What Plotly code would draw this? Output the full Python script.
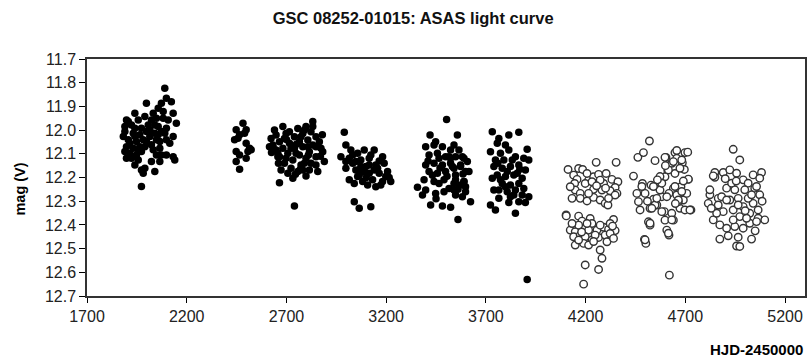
import plotly.graph_objects as go

# ASAS V-band photometry of GSC 08252-01015, grouped by observing season
# (HJD - 2450000, V magnitude)
s1_hjd = [2090, 2098, 2123, 1998, 2073, 2057, 2132, 1940, 1898, 1990, 2032, 2082, 2107, 2148,
          1923, 1957, 1973, 2007, 2023, 2057, 2073, 1890, 1932, 1965, 1882, 2040, 2090, 2132,
          2015, 1907, 1948, 1982, 2048, 2065, 2115, 1898, 1932, 1965, 2023, 1890, 1915, 1948,
          1973, 2048, 2073, 2098, 2132, 2140, 1923, 1957, 2023, 2065, 1940, 1990, 1973, 2040,
          1982, 1973, 1907, 1940, 1998, 2040, 2098, 1915, 1990, 2032, 2065, 1940, 1890, 1998,
          2098, 1957, 1898, 2057, 2082, 2048, 2015]
s1_mag = [11.823, 11.866, 11.880, 11.887, 11.887, 11.908, 11.929, 11.929, 11.957, 11.943, 11.929,
          11.950, 11.957, 11.971, 11.978, 11.957, 11.992, 11.978, 11.957, 11.985, 12.006, 12.006,
          12.013, 12.020, 12.027, 12.013, 12.013, 12.027, 12.027, 12.041, 12.048, 12.041, 12.041,
          12.048, 12.055, 12.070, 12.077, 12.070, 12.062, 12.090, 12.098, 12.105, 12.090, 12.105,
          12.105, 12.105, 12.112, 12.126, 12.119, 12.126, 12.133, 12.133, 12.147, 12.161, 12.168,
          12.175, 12.182, 12.238, 11.964, 11.992, 12.006, 11.978, 11.992, 12.055, 12.070, 12.083,
          12.077, 12.027, 11.985, 12.048, 12.041, 12.083, 12.119, 12.020, 11.922, 11.950, 11.999]

s2_hjd = [2482, 2498, 2448, 2465, 2440, 2457, 2498, 2515, 2507, 2448, 2465, 2498, 2448, 2465,
          2490, 2523]
s2_mag = [11.971, 11.999, 11.999, 12.020, 12.041, 12.034, 12.055, 12.077, 12.090, 12.090, 12.105,
          12.119, 12.133, 12.165, 12.013, 12.083]

s3_hjd = [2832, 2798, 2757, 2682, 2715, 2648, 2623, 2782, 2823, 2848, 2740, 2690, 2665, 2865,
          2807, 2765, 2715, 2632, 2848, 2782, 2740, 2682, 2648, 2882, 2815, 2707, 2765, 2665,
          2848, 2798, 2732, 2890, 2690, 2773, 2823, 2723, 2857, 2782, 2673, 2732, 2798, 2665,
          2740, 2640, 2698, 2832, 2657, 2873, 2748, 2790, 2698, 2832, 2773, 2723, 2807, 2615,
          2848, 2757, 2815, 2707, 2632, 2657, 2750, 2790, 2870, 2700, 2660, 2810, 2745, 2625,
          2880, 2770]
s3_mag = [11.964, 11.985, 11.993, 11.985, 12.007, 12.021, 12.035, 12.014, 12.007, 12.028, 12.028,
          12.035, 12.049, 12.049, 12.042, 12.049, 12.056, 12.063, 12.070, 12.070, 12.077, 12.077,
          12.084, 12.091, 12.091, 12.098, 12.105, 12.112, 12.112, 12.119, 12.126, 12.133, 12.140,
          12.147, 12.140, 12.161, 12.175, 12.168, 12.168, 12.203, 12.194, 12.222, 12.320, 12.000,
          12.014, 12.063, 12.098, 12.077, 12.098, 12.140, 12.119, 11.985, 12.028, 12.077, 12.070,
          12.070, 12.147, 12.175, 12.168, 12.182, 12.070, 12.112, 12.060, 12.000, 12.110, 12.040,
          12.140, 12.105, 12.186, 12.095, 12.020, 12.165]

s4_hjd = [2990, 2998, 2973, 3023, 3015, 3057, 3090, 3140, 3032, 3073, 3115, 3182, 2998, 3048,
          3098, 3148, 3190, 3015, 3065, 3115, 3165, 3207, 3082, 3132, 3182, 3223, 3148, 3107,
          3040, 3173, 3040, 3065, 3123, 3157, 3073, 3032, 3115, 3090, 3057, 3140, 2998, 3198,
          3123, 3048, 3100, 3165, 3080, 3215]
s4_mag = [12.009, 12.063, 12.112, 12.084, 12.119, 12.098, 12.084, 12.084, 12.140, 12.126, 12.119,
          12.112, 12.161, 12.168, 12.154, 12.147, 12.140, 12.210, 12.189, 12.182, 12.182, 12.175,
          12.217, 12.210, 12.217, 12.217, 12.239, 12.232, 12.225, 12.232, 12.302, 12.330, 12.323,
          12.161, 12.154, 12.105, 12.147, 12.175, 12.196, 12.168, 12.133, 12.196, 12.105, 12.133,
          12.200, 12.130, 12.170, 12.200]

s5_hjd = [3503, 3420, 3557, 3440, 3482, 3523, 3415, 3457, 3498, 3548, 3590, 3398, 3440, 3482,
          3523, 3573, 3415, 3457, 3498, 3548, 3598, 3390, 3440, 3490, 3540, 3590, 3357, 3398,
          3448, 3490, 3548, 3598, 3423, 3482, 3523, 3560, 3382, 3465, 3515, 3573, 3432, 3540,
          3465, 3515, 3398, 3448, 3540, 3523, 3582, 3607, 3573, 3615, 3548, 3590, 3540, 3582,
          3623, 3565, 3598, 3532, 3470, 3410, 3505, 3560, 3450, 3585]
s5_mag = [11.955, 12.021, 12.021, 12.063, 12.070, 12.084, 12.105, 12.098, 12.112, 12.112, 12.119,
          12.147, 12.140, 12.147, 12.140, 12.147, 12.175, 12.182, 12.175, 12.189, 12.175, 12.210,
          12.217, 12.210, 12.225, 12.217, 12.241, 12.253, 12.267, 12.260, 12.274, 12.260, 12.316,
          12.320, 12.326, 12.377, 12.274, 12.225, 12.246, 12.232, 12.190, 12.161, 12.119, 12.112,
          12.070, 12.049, 12.063, 12.119, 12.112, 12.133, 12.154, 12.175, 12.210, 12.217, 12.253,
          12.281, 12.302, 12.084, 12.239, 12.154, 12.160, 12.130, 12.195, 12.250, 12.290, 12.185]

s6_hjd = [3732, 3815, 3865, 3765, 3757, 3798, 3723, 3773, 3815, 3907, 3848, 3890, 3915, 3740,
          3782, 3823, 3865, 3898, 3757, 3798, 3840, 3882, 3732, 3782, 3823, 3865, 3765, 3807,
          3848, 3890, 3915, 3765, 3823, 3865, 3898, 3723, 3748, 3848, 3907, 3790, 3832, 3748,
          3807, 3773, 3857, 3798, 3840, 3882, 3740, 3815, 3870, 3760]
s6_mag = [12.007, 12.021, 12.009, 12.035, 12.056, 12.063, 12.091, 12.098, 12.084, 12.081, 12.112,
          12.119, 12.126, 12.154, 12.161, 12.154, 12.147, 12.168, 12.189, 12.196, 12.189, 12.203,
          12.203, 12.225, 12.232, 12.225, 12.253, 12.260, 12.253, 12.246, 12.281, 12.288, 12.281,
          12.302, 12.306, 12.316, 12.337, 12.351, 12.630, 12.126, 12.126, 12.126, 12.175, 12.210,
          12.182, 12.239, 12.274, 12.274, 12.253, 12.305, 12.165, 12.140]

s7_hjd = [4112, 4165, 4185, 4253, 4353, 4140, 4157, 4215, 4240, 4265, 4303, 4332, 4362, 4145,
          4198, 4232, 4290, 4348, 4148, 4173, 4240, 4282, 4323, 4357, 4132, 4173, 4207, 4240,
          4273, 4298, 4312, 4348, 4102, 4165, 4182, 4223, 4232, 4340, 4123, 4148, 4190, 4215,
          4257, 4290, 4315, 4348, 4140, 4173, 4198, 4232, 4265, 4298, 4323, 4148, 4190, 4307,
          4273, 4282, 4198, 4265, 4190, 4103, 4207, 4273, 4123, 4315, 4215, 4207, 4273, 4165,
          4323, 4132, 4248, 4340, 4165, 4215, 4255, 4300, 4180, 4335, 4240]
s7_mag = [12.166, 12.162, 12.166, 12.136, 12.136, 12.190, 12.208, 12.211, 12.197, 12.187, 12.183,
          12.208, 12.218, 12.225, 12.225, 12.218, 12.225, 12.242, 12.253, 12.267, 12.250, 12.253,
          12.256, 12.267, 12.288, 12.288, 12.299, 12.284, 12.295, 12.309, 12.316, 12.274, 12.358,
          12.363, 12.384, 12.373, 12.394, 12.377, 12.422, 12.429, 12.415, 12.422, 12.422, 12.410,
          12.419, 12.424, 12.450, 12.443, 12.450, 12.464, 12.453, 12.443, 12.436, 12.485, 12.478,
          12.471, 12.506, 12.541, 12.569, 12.588, 12.650, 12.362, 12.183, 12.211, 12.239, 12.288,
          12.267, 12.394, 12.401, 12.401, 12.394, 12.394, 12.443, 12.457, 12.464, 12.485, 12.235,
          12.245, 12.430, 12.405, 12.470]

s8_hjd = [4520, 4462, 4490, 4548, 4603, 4648, 4698, 4657, 4632, 4685, 4440, 4612, 4648, 4695,
          4715, 4485, 4528, 4565, 4598, 4640, 4678, 4457, 4498, 4540, 4582, 4618, 4657, 4690,
          4473, 4523, 4557, 4595, 4632, 4673, 4728, 4698, 4515, 4523, 4598, 4640, 4607, 4618,
          4495, 4502, 4620, 4548, 4573, 4465, 4665, 4707, 4598, 4657, 4712, 4640, 4682, 4673,
          4615, 4715, 4573, 4482, 4540, 4582, 4648, 4682, 4557, 4607, 4665, 4723, 4532, 4582,
          4632, 4523, 4615, 4498, 4560, 4600, 4690, 4510, 4650]
s8_mag = [12.046, 12.115, 12.095, 12.129, 12.115, 12.095, 12.095, 12.119, 12.140, 12.138, 12.194,
          12.169, 12.183, 12.166, 12.208, 12.225, 12.232, 12.218, 12.197, 12.246, 12.239, 12.267,
          12.267, 12.292, 12.281, 12.267, 12.274, 12.295, 12.337, 12.330, 12.316, 12.344, 12.351,
          12.330, 12.337, 12.337, 12.387, 12.401, 12.380, 12.380, 12.422, 12.443, 12.461, 12.478,
          12.612, 12.316, 12.253, 12.302, 12.302, 12.267, 12.115, 12.086, 12.093, 12.133, 12.126,
          12.161, 12.168, 12.207, 12.196, 12.238, 12.238, 12.224, 12.238, 12.259, 12.288, 12.281,
          12.295, 12.337, 12.330, 12.344, 12.379, 12.393, 12.435, 12.463, 12.210, 12.150, 12.215,
          12.300, 12.310]

s9_hjd = [4940, 4973, 4848, 4848, 4890, 4923, 4957, 4990, 5040, 5082, 5015, 5073, 4907, 4948,
          4865, 4923, 4965, 4998, 5048, 4823, 4815, 4865, 4890, 4940, 4990, 5040, 5073, 5023,
          5065, 5098, 4840, 4873, 4907, 4948, 4990, 5023, 5057, 4873, 4915, 4965, 5032, 4957,
          4973, 5015, 4882, 4973, 4932, 4823, 5065, 4840, 5032, 4965, 4907, 5007, 4940, 5057,
          4857, 4900, 5000, 5085, 4830, 4955, 5050]
s9_mag = [12.081, 12.126, 12.179, 12.199, 12.179, 12.168, 12.182, 12.210, 12.189, 12.179, 12.224,
          12.203, 12.245, 12.252, 12.288, 12.295, 12.288, 12.252, 12.245, 12.273, 12.309, 12.316,
          12.344, 12.337, 12.323, 12.309, 12.273, 12.351, 12.372, 12.379, 12.379, 12.400, 12.414,
          12.407, 12.414, 12.393, 12.386, 12.460, 12.446, 12.452, 12.460, 12.489, 12.491, 12.288,
          12.281, 12.365, 12.224, 12.252, 12.337, 12.193, 12.273, 12.316, 12.295, 12.372, 12.379,
          12.238, 12.351, 12.205, 12.340, 12.300, 12.330, 12.215, 12.425]

x_ticks = [1700, 2200, 2700, 3200, 3700, 4200, 4700, 5200]
y_ticks = [11.7, 11.8, 11.9, 12.0, 12.1, 12.2, 12.3, 12.4, 12.5, 12.6, 12.7]

filled_hjd = s1_hjd + s2_hjd + s3_hjd + s4_hjd + s5_hjd + s6_hjd
filled_mag = s1_mag + s2_mag + s3_mag + s4_mag + s5_mag + s6_mag
open_hjd = s7_hjd + s8_hjd + s9_hjd
open_mag = s7_mag + s8_mag + s9_mag

FONT = "Liberation Sans, Arial, sans-serif"

fig = go.Figure()
fig.add_trace(go.Scatter(
    x=filled_hjd, y=filled_mag, mode="markers",
    marker=dict(size=7.5, color="black", line=dict(width=0)),
    showlegend=False,
))
fig.add_trace(go.Scatter(
    x=open_hjd, y=open_mag, mode="markers",
    marker=dict(size=7.5, color="white", line=dict(width=1.4, color="#333333")),
    showlegend=False,
))

fig.update_layout(
    width=810, height=364,
    margin=dict(l=87, r=3, t=59, b=68),
    paper_bgcolor="white", plot_bgcolor="white",
    font=dict(family=FONT, color="black"),
    title=dict(text="<b>GSC 08252-01015: ASAS light curve</b>",
               x=0.51, xanchor="center", y=0.95, yanchor="middle",
               font=dict(size=16.5, family=FONT, color="#111111")),
)

fig.update_xaxes(
    range=[1700, 5300], tickmode="array", tickvals=x_ticks,
    ticktext=[str(v) for v in x_ticks],
    ticks="outside", ticklen=5, tickcolor="black", tickwidth=1,
    showline=True, linecolor="#333333", linewidth=1.5, mirror=True,
    showgrid=False, zeroline=False,
    tickfont=dict(size=16, family=FONT, color="#222222"),
)
fig.update_yaxes(
    range=[12.7, 11.7], tickmode="array", tickvals=y_ticks,
    ticktext=[f"{v:.1f}" for v in y_ticks],
    ticks="outside", ticklen=6, tickcolor="black", tickwidth=1,
    showline=True, linecolor="#333333", linewidth=1.5, mirror=True,
    showgrid=False, zeroline=False,
    tickfont=dict(size=16, family=FONT, color="#222222"),
)

fig.add_annotation(
    text="<b>mag (V)</b>", xref="paper", yref="paper",
    x=-0.093, y=0.45, xanchor="center", yanchor="middle", textangle=-90,
    showarrow=False, font=dict(size=14.5, family=FONT, color="black"),
)
fig.add_annotation(
    text="<b>HJD-2450000</b>", xref="paper", yref="paper",
    x=1.0, y=-0.225, xanchor="right", yanchor="middle", showarrow=False,
    font=dict(size=15, family=FONT, color="black"),
)

fig.write_html("out.html")
